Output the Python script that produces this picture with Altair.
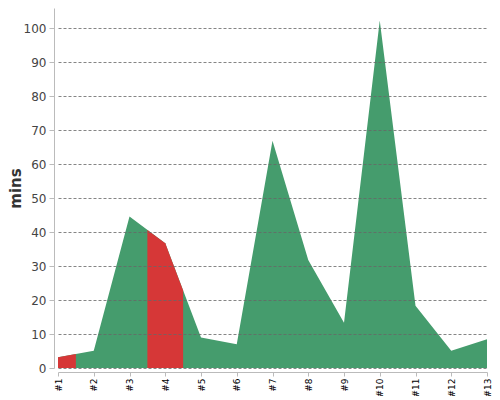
import altair as alt
import pandas as pd

categories = ["#1", "#2", "#3", "#4", "#5", "#6", "#7", "#8", "#9", "#10", "#11", "#12", "#13"]
values = [3.2, 5.1, 44.6, 36.7, 9.0, 7.0, 66.9, 31.8, 13.3, 102.3, 18.3, 5.1, 8.5]
highlight = ["#1", "#4"]

GREEN = "#459c6d"
RED = "#d63737"

idx = list(range(1, len(categories) + 1))
base_df = pd.DataFrame({"idx": idx, "cat": categories, "mins": values})

# highlighted segments: half a step either side of the highlighted category
rows = []
for c in highlight:
    i = categories.index(c)
    v = values[i]
    if i > 0:
        rows.append({"seg": c, "idx": i + 1 - 0.5, "mins": (values[i - 1] + v) / 2})
    rows.append({"seg": c, "idx": i + 1, "mins": v})
    if i < len(values) - 1:
        rows.append({"seg": c, "idx": i + 1 + 0.5, "mins": (values[i + 1] + v) / 2})
hl_df = pd.DataFrame(rows)

xscale = alt.Scale(domain=[1, len(categories)], nice=False, zero=False)
yscale = alt.Scale(domain=[0, 106], nice=False)

xaxis = alt.Axis(
    values=idx, labelExpr="'#' + datum.value", labelAngle=-90, labelAlign="right",
    labelBaseline="middle", labelFontSize=9, labelColor="#000", labelFont="DejaVu Sans",
    tickSize=4, labelPadding=2, offset=4, grid=False, title=None,
    domainColor="#bbbbbb", tickColor="#bbbbbb",
)
yaxis = alt.Axis(
    values=list(range(0, 101, 10)), labelFontSize=12, labelColor="#444", labelFont="DejaVu Sans",
    tickSize=5, labelPadding=3, offset=4, grid=True, gridColor="#666", gridDash=[3, 2],
    gridOpacity=0.8, domainColor="#bbbbbb", tickColor="#bbbbbb",
    title="mins", titleFontSize=15, titleFont="DejaVu Sans", titleFontWeight="bold",
    titleColor="#333", titlePadding=0, zindex=1,
)

X = alt.X("idx:Q", scale=xscale, axis=xaxis)
Y = alt.Y("mins:Q", scale=yscale, axis=yaxis)

green = alt.Chart(base_df).mark_area(color=GREEN, interpolate="linear").encode(x=X, y=Y)
layers = [green]
for c in highlight:
    layers.append(
        alt.Chart(hl_df).transform_filter(alt.datum.seg == c)
        .mark_area(color=RED, interpolate="linear").encode(x=X, y=Y)
    )

chart = alt.layer(*layers).properties(
    width=429, height=360,
    autosize=alt.AutoSizeParams(type="none"),
    padding={"left": 50, "top": 0, "right": 5, "bottom": 28},
).configure_view(stroke=None)

chart.save("out.html", embed_options={"renderer": "svg", "actions": False})
